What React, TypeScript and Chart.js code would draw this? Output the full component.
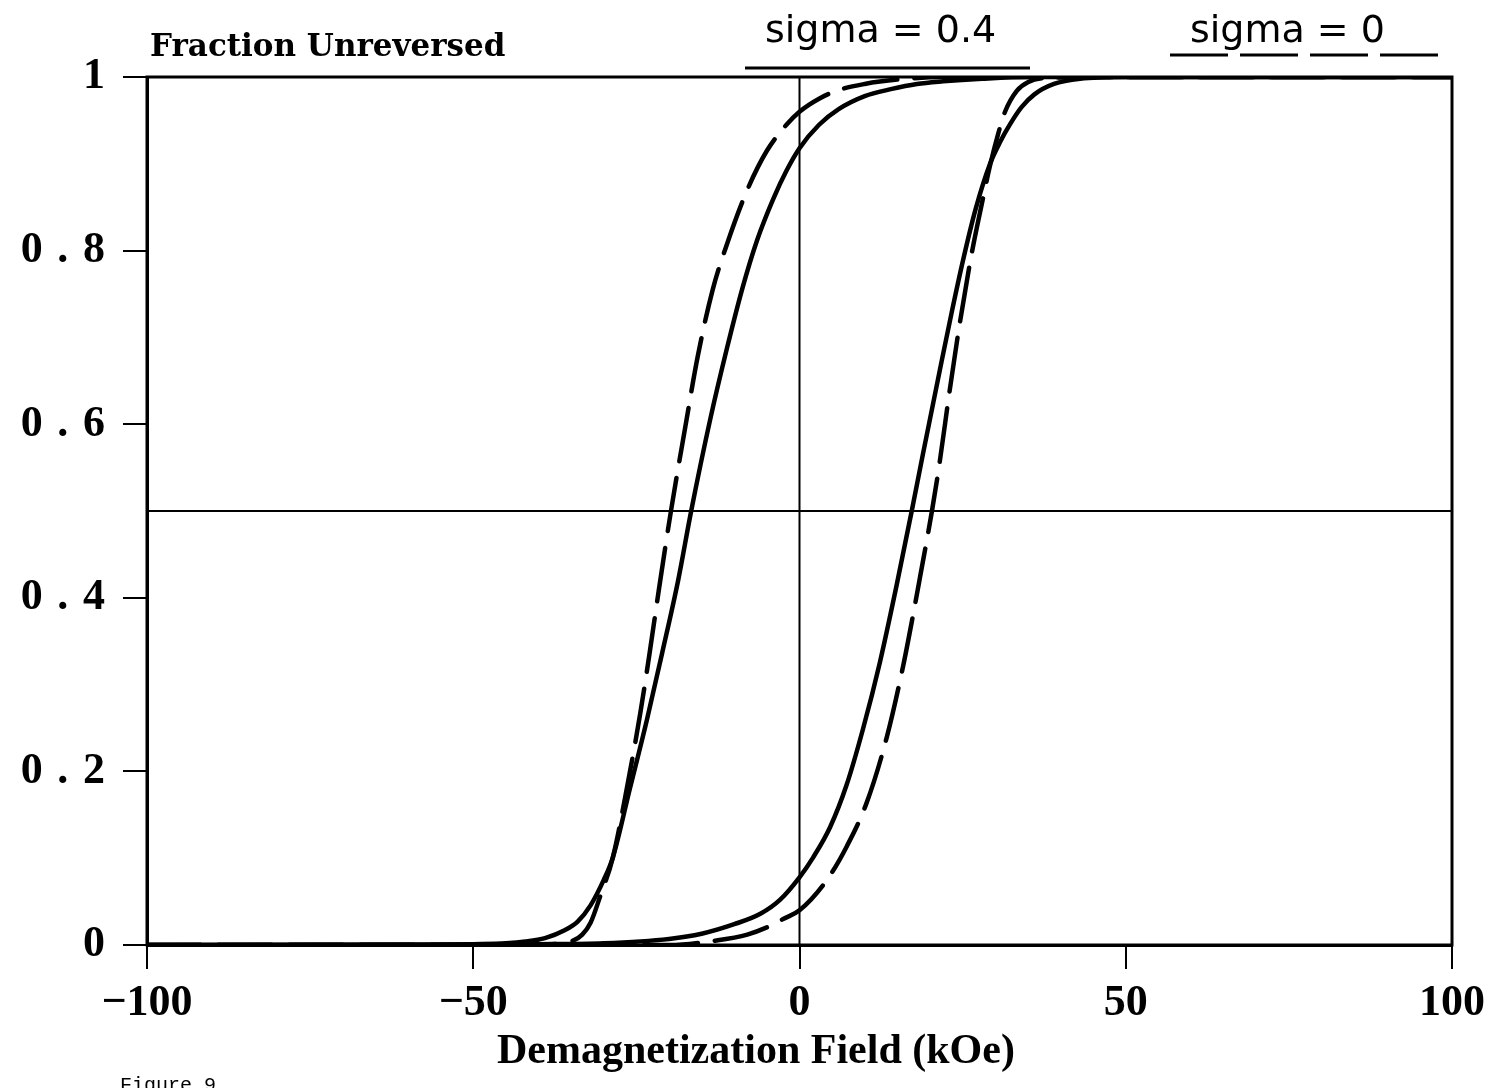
import React, { useEffect, useRef } from "react";
import { Chart, registerables } from "chart.js";

Chart.register(...registerables);

// ---- Axis ticks ----
const xTicks = [-100, -50, 0, 50, 100];
const xTickLabels = ["\u2212100", "\u221250", "0", "50", "100"];
const yTicks = [0, 0.2, 0.4, 0.6, 0.8, 1];
const yTickLabels = ["0", "0\u2004.\u20042", "0\u2004.\u20044", "0\u2004.\u20046", "0\u2004.\u20048", "1"];

// ---- Texts ----
const yTitle = "Fraction Unreversed";
const xTitle = "Demagnetization Field (kOe)";
const legendSolid = "sigma = 0.4";
const legendDashed = "sigma = 0";
const figureLabel = "Figure 9";

// ---- sigma = 0.4 (solid), left branch ----
const leftSolidX = [-100, -60, -50, -45, -42, -39, -36, -34, -32, -30, -28.6, -26, -23.4, -21, -18.6, -16.6, -13.7, -11.1, -8.7, -6.5, -4, -2, 0, 3, 6, 10, 14, 18, 22, 28, 35, 100];
const leftSolidY = [0, 0, 0.001, 0.002, 0.004, 0.008, 0.017, 0.027, 0.046, 0.075, 0.101, 0.18, 0.259, 0.338, 0.42, 0.5, 0.605, 0.688, 0.758, 0.812, 0.86, 0.892, 0.918, 0.945, 0.963, 0.978, 0.986, 0.992, 0.995, 0.998, 1, 1];

// ---- sigma = 0 (dashed), left branch ----
const leftDashedX = [-100, -45, -38, -35, -33.3, -32, -30.6, -28.6, -26.3, -24.4, -22.9, -21.5, -19.7, -17.5, -15.6, -13.3, -11, -8, -5, -2, 0, 3, 6, 10, 15, 22, 100];
const leftDashedY = [0, 0, 0.001, 0.004, 0.012, 0.026, 0.055, 0.101, 0.187, 0.267, 0.34, 0.412, 0.5, 0.597, 0.678, 0.755, 0.81, 0.87, 0.915, 0.945, 0.96, 0.975, 0.985, 0.992, 0.997, 1, 1];

// ---- sigma = 0.4 (solid), right branch ----
const rightSolidX = [-100, -40, -30, -20, -15, -10, -6, -3, 0, 2.1, 4.7, 7.2, 9.7, 12.3, 14.9, 17.2, 18.9, 21.5, 23.3, 25.1, 27, 29.2, 30.8, 32.3, 34, 36, 39, 43, 50, 100];
const rightSolidY = [0, 0.001, 0.002, 0.007, 0.013, 0.024, 0.036, 0.052, 0.078, 0.101, 0.136, 0.184, 0.248, 0.325, 0.415, 0.5, 0.565, 0.662, 0.728, 0.79, 0.848, 0.9, 0.926, 0.946, 0.965, 0.98, 0.992, 0.998, 1, 1];

// ---- sigma = 0 (dashed), right branch ----
const rightDashedX = [-100, -20, -13, -8, -4.2, -2.5, 0, 4.2, 7.2, 10.3, 13.4, 15.9, 17.4, 18.5, 20.3, 21.5, 23, 24.6, 26.4, 28, 29.2, 30.5, 31.5, 33.3, 35, 38, 45, 100];
const rightDashedY = [0, 0, 0.005, 0.012, 0.023, 0.03, 0.04, 0.075, 0.113, 0.164, 0.24, 0.322, 0.38, 0.425, 0.5, 0.557, 0.638, 0.718, 0.797, 0.856, 0.898, 0.936, 0.96, 0.984, 0.994, 0.999, 1, 1];

// ---- reference lines ----
const vLineX = [0, 0];
const vLineY = [0, 1];
const hLineX = [-100, 100];
const hLineY = [0.5, 0.5];

const pts = (xs: number[], ys: number[]) => xs.map((x, i) => ({ x, y: ys[i] }));

const findLabel = (ticks: number[], labels: string[], v: number) => {
  const i = ticks.findIndex((t) => Math.abs(t - v) < 1e-6);
  return i >= 0 ? labels[i] : "";
};

const annotations = {
  id: "annotations",
  afterDraw(chart: any) {
    const { ctx, chartArea: a } = chart;
    ctx.save();
    // frame
    ctx.strokeStyle = "#000";
    ctx.lineWidth = 3;
    ctx.setLineDash([]);
    ctx.strokeRect(a.left, a.top, a.right - a.left, a.bottom - a.top);

    ctx.fillStyle = "#000";
    ctx.textBaseline = "alphabetic";
    ctx.textAlign = "left";

    // y title
    ctx.font = 'bold 31px "DejaVu Serif"';
    ctx.fillText(yTitle, 150, 56);

    // x title
    ctx.font = 'bold 42px "Liberation Serif"';
    ctx.fillText(xTitle, 497, 1063);

    // legend labels
    ctx.font = '38px "DejaVu Sans"';
    ctx.fillText(legendSolid, 765, 42);
    ctx.fillText(legendDashed, 1190, 42);

    ctx.lineWidth = 3;
    ctx.beginPath();
    ctx.moveTo(745, 68);
    ctx.lineTo(1030, 68);
    ctx.stroke();

    ctx.setLineDash([58, 12]);
    ctx.beginPath();
    ctx.moveTo(1170, 55);
    ctx.lineTo(1450, 55);
    ctx.stroke();
    ctx.setLineDash([]);

    // figure label
    ctx.font = '20px "Liberation Mono"';
    ctx.fillText(figureLabel, 120, 1091);
    ctx.restore();
  },
};

export default function App() {
  const ref = useRef<HTMLCanvasElement | null>(null);

  useEffect(() => {
    if (!ref.current) return;
    const solid = { borderColor: "#000", borderWidth: 4.5, pointRadius: 0, fill: false, cubicInterpolationMode: "monotone" as const };
    const dashed = { ...solid, borderDash: [54, 17], borderCapStyle: "round" as const };
    const thin = { borderColor: "#000", borderWidth: 2, pointRadius: 0, fill: false, tension: 0 };

    const chart = new Chart(ref.current, {
      type: "line",
      data: {
        datasets: [
          { label: "x = 0", data: pts(vLineX, vLineY), ...thin },
          { label: "y = 0.5", data: pts(hLineX, hLineY), ...thin },
          { label: "sigma = 0.4 (left)", data: pts(leftSolidX, leftSolidY), ...solid },
          { label: "sigma = 0 (left)", data: pts(leftDashedX, leftDashedY), ...dashed },
          { label: "sigma = 0.4 (right)", data: pts(rightSolidX, rightSolidY), ...solid },
          { label: "sigma = 0 (right)", data: pts(rightDashedX, rightDashedY), ...dashed },
        ],
      },
      options: {
        responsive: false,
        animation: false,
        devicePixelRatio: 1,
        layout: { padding: { top: 77, right: 42, left: 0, bottom: 0 } },
        plugins: { legend: { display: false }, tooltip: { enabled: false }, title: { display: false } },
        scales: {
          x: {
            type: "linear",
            min: -100,
            max: 100,
            afterFit: (s: any) => { s.height = 143; },
            afterBuildTicks: (s: any) => { s.ticks = xTicks.map((v) => ({ value: v })); },
            ticks: {
              autoSkip: false,
              maxRotation: 0,
              padding: 8,
              color: "#000",
              font: { family: "Liberation Serif", weight: "bold", size: 44 },
              callback: (v: any) => findLabel(xTicks, xTickLabels, Number(v)),
            },
            grid: { drawOnChartArea: false, drawTicks: true, tickLength: 24, color: "#000", lineWidth: 2 },
            border: { display: true, color: "#000", width: 3 },
          },
          y: {
            type: "linear",
            min: 0,
            max: 1,
            afterFit: (s: any) => { s.width = 147; },
            afterBuildTicks: (s: any) => { s.ticks = yTicks.map((v) => ({ value: v })); },
            ticks: {
              autoSkip: false,
              padding: 18,
              color: "#000",
              font: { family: "Liberation Serif", weight: "bold", size: 44 },
              callback: (v: any) => findLabel(yTicks, yTickLabels, Number(v)),
            },
            grid: { drawOnChartArea: false, drawTicks: true, tickLength: 24, color: "#000", lineWidth: 2 },
            border: { display: true, color: "#000", width: 3 },
          },
        },
      },
      plugins: [annotations],
    } as any);
    return () => chart.destroy();
  }, []);

  return (
    <div style={{ position: "absolute", left: 0, top: 0, width: 1494, height: 1088, background: "#fff" }}>
      <canvas ref={ref} width={1494} height={1088} style={{ display: "block" }} />
    </div>
  );
}
